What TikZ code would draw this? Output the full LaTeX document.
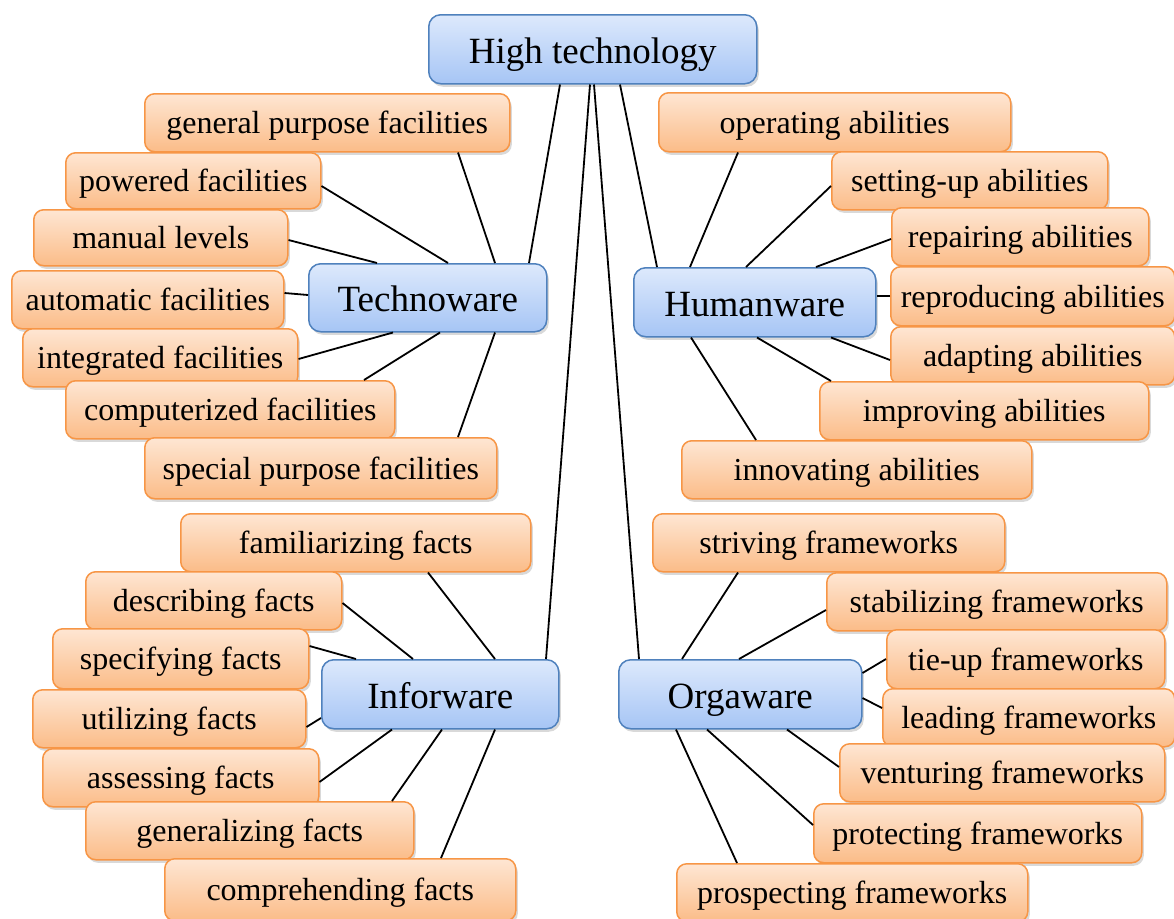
\documentclass[tikz,border=0pt]{standalone}
\usepackage{fontspec}
\setmainfont{Liberation Serif}
\usepackage{tikz}
\usetikzlibrary{shadows}

\definecolor{hubtop}{RGB}{221,233,252}
\definecolor{hubbot}{RGB}{166,197,245}
\definecolor{hubline}{RGB}{79,129,189}
\definecolor{subtop}{RGB}{254,230,211}
\definecolor{subbot}{RGB}{251,188,136}
\definecolor{subline}{RGB}{247,150,70}

\begin{document}
\begin{tikzpicture}[x=1pt, y=-1pt,
    hub/.style={draw=hubline, line width=1.5pt, rounded corners=12pt, top color=hubtop, bottom color=hubbot,
        drop shadow={shadow xshift=2pt, shadow yshift=-3pt, opacity=0.3}, anchor=north west,
        minimum height=69pt, inner sep=0pt, text height=36pt, text depth=8pt, font=\fontsize{37}{42}\selectfont},
    sub/.style={draw=subline, line width=1.5pt, rounded corners=10pt, top color=subtop, bottom color=subbot,
        drop shadow={shadow xshift=2pt, shadow yshift=-3pt, opacity=0.3}, anchor=north west,
        minimum height=58pt, inner sep=0pt, text height=29pt, text depth=7pt, font=\fontsize{32}{36}\selectfont},
    link/.style={line width=1.8pt}]
    \useasboundingbox (0,0) rectangle (1174,918);

    % Top
    \node[hub, minimum width=328pt] (ht) at (428,14) {High technology};

    % Technoware
    \node[sub, minimum width=365pt] (gpf) at (144,93) {general purpose facilities};
    \node[sub, minimum width=255pt, minimum height=56pt] (pow) at (65,152) {powered facilities};
    \node[sub, minimum width=254pt, minimum height=56pt] (man) at (33,209) {manual levels};
    \node[sub, minimum width=272pt] (aut) at (11,270) {automatic facilities};
    \node[sub, minimum width=275pt] (int) at (22,328) {integrated facilities};
    \node[sub, minimum width=329pt] (cmp) at (65,380) {computerized facilities};
    \node[sub, minimum width=352pt, minimum height=61pt] (spf) at (144,437) {special purpose facilities};
    \node[hub, minimum width=238pt, minimum height=68pt] (tw) at (308,263) {Technoware};

    % Humanware
    \node[sub, minimum width=352pt, minimum height=59pt] (opr) at (658,92) {operating abilities};
    \node[sub, minimum width=276pt] (set) at (831,151) {setting-up abilities};
    \node[sub, minimum width=257pt] (rep) at (891,207) {repairing abilities};
    \node[sub, minimum width=284pt, minimum height=59pt] (rpr) at (890,266) {reproducing abilities};
    \node[sub, minimum width=284pt] (ada) at (890,326) {adapting abilities};
    \node[sub, minimum width=329pt] (imp) at (819,381) {improving abilities};
    \node[sub, minimum width=350pt] (inn) at (681,440) {innovating abilities};
    \node[hub, minimum width=242pt] (hw) at (633,267) {Humanware};

    % Inforware
    \node[sub, minimum width=350pt] (fam) at (180,513) {familiarizing facts};
    \node[sub, minimum width=256pt] (des) at (85,571) {describing facts};
    \node[sub, minimum width=256pt, minimum height=60pt] (spc) at (52,628) {specifying facts};
    \node[sub, minimum width=273pt] (utl) at (32,689) {utilizing facts};
    \node[sub, minimum width=276pt] (ass) at (42,748) {assessing facts};
    \node[sub, minimum width=328pt] (gen) at (85,801) {generalizing facts};
    \node[sub, minimum width=351pt, minimum height=62pt] (cmh) at (164,858) {comprehending facts};
    \node[hub, minimum width=237pt] (iw) at (321,659) {Inforware};

    % Orgaware
    \node[sub, minimum width=352pt] (str) at (652,513) {striving frameworks};
    \node[sub, minimum width=340pt] (stb) at (826,572) {stabilizing frameworks};
    \node[sub, minimum width=278pt, minimum height=59pt] (tie) at (886,629) {tie-up frameworks};
    \node[sub, minimum width=292pt] (lea) at (882,688) {leading frameworks};
    \node[sub, minimum width=325pt] (ven) at (839,743) {venturing frameworks};
    \node[sub, minimum width=328pt, minimum height=59pt] (pro) at (813,803) {protecting frameworks};
    \node[sub, minimum width=351pt] (psp) at (676,863) {prospecting frameworks};
    \node[hub, minimum width=243pt] (ow) at (618,659) {Orgaware};

    % Links from the top
    \draw[link] ([xshift=132pt]ht.south west) -- ([xshift=221pt]tw.north west);
    \draw[link] ([xshift=192pt]ht.south west) -- ([xshift=24pt]hw.north west);
    \draw[link] ([xshift=162pt]ht.south west) -- ([xshift=225pt]iw.north west);
    \draw[link] ([xshift=166pt]ht.south west) -- ([xshift=21pt]ow.north west);

    % Technoware links
    \draw[link] ([xshift=314pt]gpf.south west) -- ([xshift=187pt]tw.north west);
    \draw[link] ([yshift=-34pt]pow.north east) -- ([xshift=140pt]tw.north west);
    \draw[link] ([yshift=-31pt]man.north east) -- ([xshift=69pt]tw.north west);
    \draw[link] ([yshift=-23pt]aut.north east) -- ([yshift=-32pt]tw.north west);
    \draw[link] ([yshift=-31pt]int.north east) -- ([xshift=85pt]tw.south west);
    \draw[link] ([xshift=299pt]cmp.north west) -- ([xshift=132pt]tw.south west);
    \draw[link] ([xshift=314pt]spf.north west) -- ([xshift=187pt]tw.south west);

    % Humanware links
    \draw[link] ([xshift=80pt]opr.south west) -- ([xshift=57pt]hw.north west);
    \draw[link] ([yshift=-35pt]set.north west) -- ([xshift=113pt]hw.north west);
    \draw[link] ([yshift=-32pt]rep.north west) -- ([xshift=183pt]hw.north west);
    \draw[link] ([yshift=-30pt]rpr.north west) -- ([yshift=-29pt]hw.north east);
    \draw[link] ([yshift=-34pt]ada.north west) -- ([xshift=198pt]hw.south west);
    \draw[link] ([xshift=12pt]imp.north west) -- ([xshift=124pt]hw.south west);
    \draw[link] ([xshift=75pt]inn.north west) -- ([xshift=58pt]hw.south west);

    % Inforware links
    \draw[link] ([xshift=248pt]fam.south west) -- ([xshift=174pt]iw.north west);
    \draw[link] ([yshift=-32pt]des.north east) -- ([xshift=92pt]iw.north west);
    \draw[link] ([yshift=-18pt]spc.north east) -- ([xshift=35pt]iw.north west);
    \draw[link] ([yshift=-38pt]utl.north east) -- ([yshift=-59pt]iw.north west);
    \draw[link] ([yshift=-34pt]ass.north east) -- ([xshift=71pt]iw.south west);
    \draw[link] ([xshift=307pt]gen.north west) -- ([xshift=121pt]iw.south west);
    \draw[link] ([xshift=277pt]cmh.north west) -- ([xshift=174pt]iw.south west);

    % Orgaware links
    \draw[link] ([xshift=86pt]str.south west) -- ([xshift=64pt]ow.north west);
    \draw[link] ([yshift=-38pt]stb.north west) -- ([xshift=121pt]ow.north west);
    \draw[link] ([yshift=-30pt]tie.north west) -- ([yshift=-14pt]ow.north east);
    \draw[link] ([yshift=-20pt]lea.north west) -- ([yshift=-39pt]ow.north east);
    \draw[link] ([yshift=-24pt]ven.north west) -- ([xshift=169pt]ow.south west);
    \draw[link] ([yshift=-22pt]pro.north west) -- ([xshift=89pt]ow.south west);
    \draw[link] ([xshift=61pt]psp.north west) -- ([xshift=58pt]ow.south west);
\end{tikzpicture}
\end{document}
